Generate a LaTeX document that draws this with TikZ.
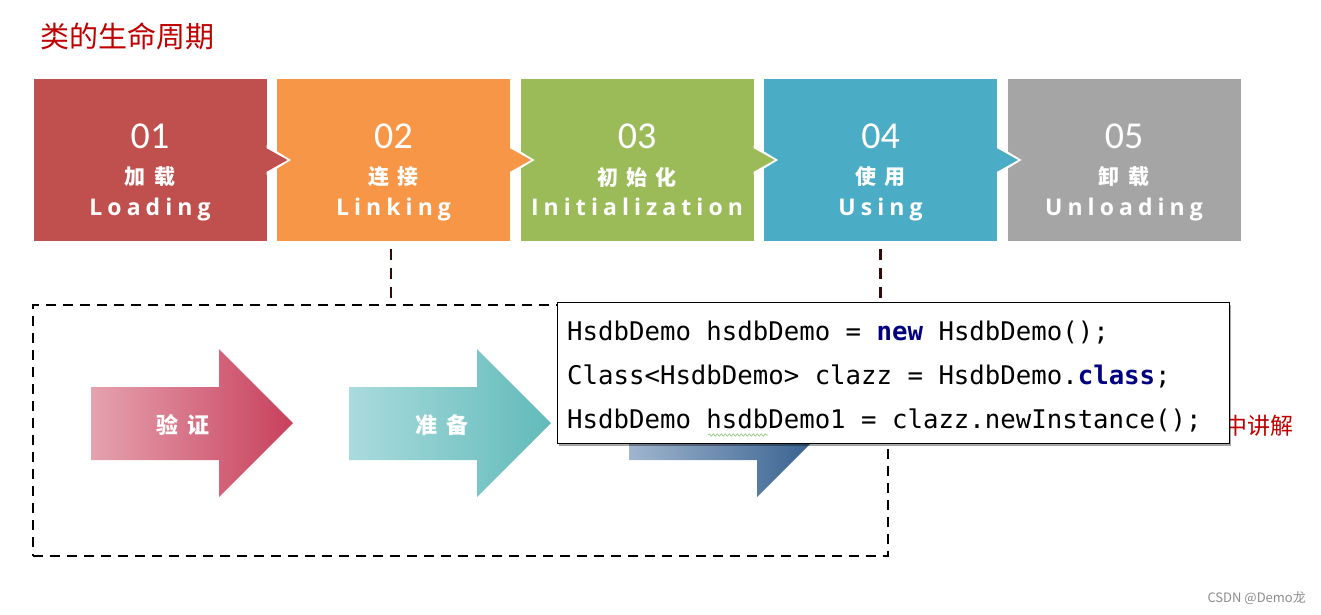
\documentclass[tikz,border=0pt]{standalone}
\usepackage{fontspec}
\setmainfont{Open Sans}
\newfontfamily\cjk{Noto Sans CJK SC}
\newfontfamily\cjksp[LetterSpace=40]{Noto Sans CJK SC}
\newfontfamily\numfont{Carlito}
\newfontfamily\labfont[LetterSpace=22]{Open Sans}
\newfontfamily\codefont{DejaVu Sans Mono}
\usetikzlibrary{calc,shadows,decorations.pathmorphing}
\definecolor{cA}{HTML}{C0504D}
\definecolor{cB}{HTML}{F79646}
\definecolor{cC}{HTML}{9BBB59}
\definecolor{cD}{HTML}{4BACC6}
\definecolor{cE}{HTML}{A5A5A5}
\definecolor{titlered}{HTML}{C00000}
\definecolor{pinkL}{RGB}{229,162,175}
\definecolor{pinkR}{RGB}{200,64,92}
\definecolor{tealL}{RGB}{170,219,221}
\definecolor{tealR}{RGB}{98,186,186}
\definecolor{blueL}{RGB}{160,181,206}
\definecolor{blueR}{RGB}{46,90,138}
\definecolor{kw}{HTML}{000080}
\definecolor{connc}{RGB}{50,10,10}
\definecolor{squig}{RGB}{150,200,130}
\begin{document}
\begin{tikzpicture}[x=1pt,y=-1pt,
  stagebox/.style={minimum width=233pt, minimum height=162pt, inner sep=0pt, outer sep=0pt, draw=none},
  numtext/.style={text=white, font=\numfont\fontsize{38}{40}\selectfont, inner sep=0pt},
  cntext/.style={text=white, font=\cjksp\bfseries\fontsize{21}{24}\selectfont, inner sep=0pt},
  entext/.style={text=white, font=\labfont\bfseries\fontsize{23}{26}\selectfont, inner sep=0pt},
  arrtext/.style={text=white, font=\cjksp\bfseries\fontsize{22}{24}\selectfont, inner sep=0pt},
  codeline/.style={anchor=base west, inner sep=0pt, font=\codefont\fontsize{25.7}{30}\selectfont},
  conn/.style={draw=connc, line width=2.4pt, dash pattern=on 11pt off 8pt, dash phase=11pt},
  groupbox/.style={draw=black, line width=2.4pt, dash pattern=on 10pt off 7pt, inner sep=0pt, minimum width=855pt, minimum height=251pt},
  codebox/.style={draw=black, line width=0.8pt, fill=white, inner sep=0pt, minimum width=672pt, minimum height=141pt,
    drop shadow={shadow xshift=1.5pt, shadow yshift=-2.5pt, opacity=0.35, fill=black}}
]
\useasboundingbox (0,0) rectangle (1321,614);

% title
\node[anchor=west, text=titlered, font=\cjk\fontsize{29}{32}\selectfont, inner sep=0pt] (title) at (40,36.5) {类的生命周期};

% stage boxes
\foreach \i/\col in {1/cA,2/cB,3/cC,4/cD,5/cE}{
  \node[stagebox, fill=\col] (box\i) at ({150+(\i-1)*243.5},160) {};
}
\foreach \i/\col in {1/cA,2/cB,3/cC,4/cD}{
  \fill[white] ($(box\i.east)+(0,-15)$) -- ($(box\i.east)+(24.5,0)$) -- ($(box\i.east)+(0,15)$) -- cycle;
  \fill[\col] ($(box\i.east)+(-0.5,-12)$) -- ($(box\i.east)+(21,0)$) -- ($(box\i.east)+(-0.5,12)$) -- cycle;
}
\foreach \i/\num/\cn/\en in {1/01/加载/Loading,2/02/连接/Linking,3/03/初始化/Initialization,4/04/使用/Using,5/05/卸载/Unloading}{
  \node[numtext, anchor=base] (num\i) at ($(box\i.north)+(0,69)$) {\num};
  \node[cntext] (cn\i) at ($(box\i.north)+(0,98)$) {\cn};
  \node[entext, anchor=base] (en\i) at ($(box\i.north)+(0,136)$) {\en};
}

% dashed group
\node[groupbox] (group) at (460.5,430.5) {};
\draw[conn] ([xshift=-2.5pt]box2.south) -- ([xshift=-2.5pt]box2.south |- group.north);

% arrows
\shade[left color=pinkL, right color=pinkR] (91,387) -- (219,387) -- (219,349) -- (293,423) -- (219,497) -- (219,460) -- (91,460) -- cycle;
\shade[left color=tealL, right color=tealR] (349,387) -- (477,387) -- (477,349) -- (551,423) -- (477,497) -- (477,460) -- (349,460) -- cycle;
\shade[left color=blueL, right color=blueR] (629,387) -- (757,387) -- (757,349) -- (831,423) -- (757,497) -- (757,460) -- (629,460) -- cycle;
\node[arrtext] (t1) at (183,425) {验证};
\node[arrtext] (t2) at (442,425) {准备};

% partially hidden note
\node[anchor=east, text=titlered, font=\cjk\fontsize{23}{26}\selectfont, inner sep=0pt] (note) at (1294,426) {中讲解};

% code box
\node[codebox] (code) at (893,372.5) {};
\node[codeline] (c1) at (567,340) {HsdbDemo hsdbDemo = {\bfseries\color{kw}new} HsdbDemo();};
\node[codeline] (c2) at (567,384) {Class<HsdbDemo> clazz = HsdbDemo.{\bfseries\color{kw}class};};
\node[codeline] (c3) at (567,428) {HsdbDemo hsdbDemo1 = clazz.newInstance();};
\draw[squig, line width=0.7pt, decorate, decoration={snake, amplitude=1.1pt, segment length=4pt}] (708,435) -- (768,435);
\draw[conn] (box4.south) -- (box4.south |- code.north);

% watermark
\node[anchor=east, text=black!45, font=\cjk\fontsize{13}{15}\selectfont, inner sep=0pt] (wm) at (1306,598) {CSDN @Demo龙};
\end{tikzpicture}
\end{document}
